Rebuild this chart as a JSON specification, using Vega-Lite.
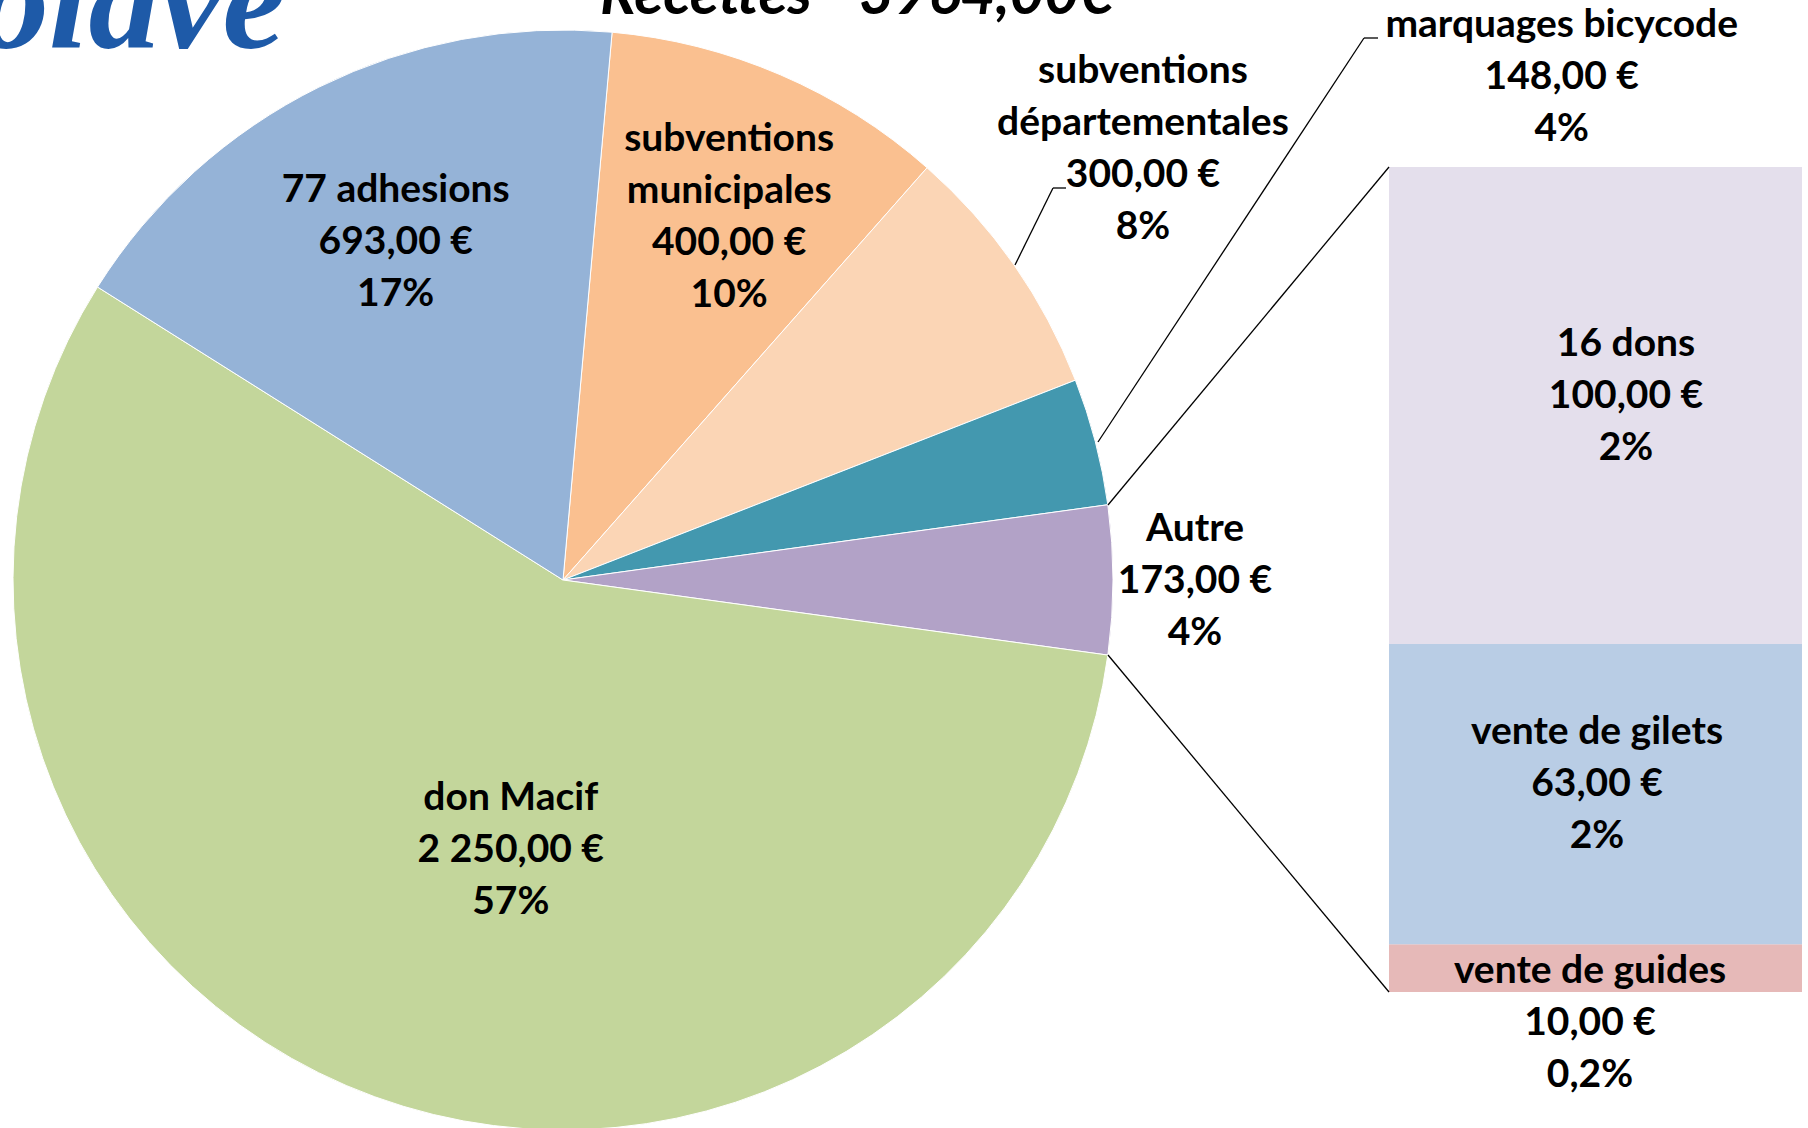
{
  "$schema": "https://vega.github.io/schema/vega-lite/v6.json",
  "width": 1808,
  "height": 1128,
  "padding": 0,
  "autosize": {"type": "none"},
  "background": "white",
  "config": {"view": {"stroke": null}},
  "datasets": {
    "pie": [
      {"cat": "subventions municipales", "value": 400, "ord": 1, "label": "subventions\nmunicipales\n400,00 €\n10%"},
      {"cat": "subventions départementales", "value": 300, "ord": 2, "label": "subventions\ndépartementales\n300,00 €\n8%"},
      {"cat": "marquages bicycode", "value": 148, "ord": 3, "label": "marquages bicycode\n148,00 €\n4%"},
      {"cat": "Autre", "value": 173, "ord": 4, "label": "Autre\n173,00 €\n4%"},
      {"cat": "don Macif", "value": 2250, "ord": 5, "label": "don Macif\n2 250,00 €\n57%"},
      {"cat": "77 adhesions", "value": 693, "ord": 6, "label": "77 adhesions\n693,00 €\n17%"}
    ],
    "bar": [
      {"cat": "vente de guides", "value": 10, "ord": 1, "label": "vente de guides\n10,00 €\n0,2%"},
      {"cat": "vente de gilets", "value": 63, "ord": 2, "label": "vente de gilets\n63,00 €\n2%"},
      {"cat": "16 dons", "value": 100, "ord": 3, "label": "16 dons\n100,00 €\n2%"}
    ],
    "deco": [{"id": 1}]
  },
  "layer": [
    {
      "data": {"name": "deco"},
      "mark": {"type": "text", "x": -22, "y": 48, "text": "olave", "font": "Liberation Serif", "fontSize": 142, "fontStyle": "italic", "fontWeight": "bold", "color": "#1E5AA8", "align": "left", "baseline": "alphabetic"}
    },
    {
      "data": {"name": "deco"},
      "mark": {"type": "text", "x": 857, "y": 14, "text": "Recettes - 3964,00€", "font": "Lato", "fontSize": 60, "fontStyle": "italic", "fontWeight": "bold", "color": "black", "align": "center", "baseline": "alphabetic"}
    },
    {
      "data": {"name": "pie"},
      "encoding": {
        "theta": {"field": "value", "type": "quantitative", "stack": true, "scale": {"range": [0.0894, 6.3726]}},
        "order": {"field": "ord", "type": "quantitative"}
      },
      "layer": [
        {
          "mark": {"type": "arc", "x": 563, "y": 580, "outerRadius": 550, "stroke": "white", "strokeWidth": 1},
          "encoding": {
            "color": {"field": "cat", "type": "nominal", "legend": null,
              "scale": {
                "domain": ["subventions municipales", "subventions départementales", "marquages bicycode", "Autre", "don Macif", "77 adhesions", "vente de guides", "vente de gilets", "16 dons"],
                "range": ["#FAC090", "#FBD5B5", "#4398AF", "#B2A2C7", "#C3D69B", "#95B3D7", "#E6B9B8", "#B9CDE5", "#E4DFEC"]
              }}
          }
        },
        {
          "mark": {"type": "text", "x": 563, "y": 580, "radius": 377, "dy": -52, "font": "Lato", "fontSize": 39, "fontWeight": "bold", "lineHeight": 52, "lineBreak": "\n", "align": "center", "baseline": "middle", "color": "black"},
          "encoding": {"text": {"condition": {"test": "datum.cat === '77 adhesions'", "field": "label", "type": "nominal"}, "value": ""}}
        },
        {
          "mark": {"type": "text", "x": 563, "y": 580, "radius": 395, "dx": 10, "dy": -78, "font": "Lato", "fontSize": 39, "fontWeight": "bold", "lineHeight": 52, "lineBreak": "\n", "align": "center", "baseline": "middle", "color": "black"},
          "encoding": {"text": {"condition": {"test": "datum.cat === 'subventions municipales'", "field": "label", "type": "nominal"}, "value": ""}}
        },
        {
          "mark": {"type": "text", "x": 563, "y": 580, "radius": 722, "dx": -12, "dy": -96, "font": "Lato", "fontSize": 39, "fontWeight": "bold", "lineHeight": 52, "lineBreak": "\n", "align": "center", "baseline": "middle", "color": "black"},
          "encoding": {"text": {"condition": {"test": "datum.cat === 'subventions départementales'", "field": "label", "type": "nominal"}, "value": ""}}
        },
        {
          "mark": {"type": "text", "x": 563, "y": 580, "radius": 1032, "dy": -295, "font": "Lato", "fontSize": 39, "fontWeight": "bold", "lineHeight": 52, "lineBreak": "\n", "align": "center", "baseline": "middle", "color": "black"},
          "encoding": {"text": {"condition": {"test": "datum.cat === 'marquages bicycode'", "field": "label", "type": "nominal"}, "value": ""}}
        },
        {
          "mark": {"type": "text", "x": 563, "y": 580, "radius": 632, "dy": -51, "font": "Lato", "fontSize": 39, "fontWeight": "bold", "lineHeight": 52, "lineBreak": "\n", "align": "center", "baseline": "middle", "color": "black"},
          "encoding": {"text": {"condition": {"test": "datum.cat === 'Autre'", "field": "label", "type": "nominal"}, "value": ""}}
        },
        {
          "mark": {"type": "text", "x": 563, "y": 580, "radius": 287, "dx": 46, "dy": -52, "font": "Lato", "fontSize": 39, "fontWeight": "bold", "lineHeight": 52, "lineBreak": "\n", "align": "center", "baseline": "middle", "color": "black"},
          "encoding": {"text": {"condition": {"test": "datum.cat === 'don Macif'", "field": "label", "type": "nominal"}, "value": ""}}
        }
      ]
    },
    {
      "data": {"name": "bar"},
      "encoding": {
        "y": {"field": "value", "type": "quantitative", "stack": "zero", "scale": {"domain": [0, 173], "range": [992, 167]}, "axis": null},
        "order": {"field": "ord", "type": "quantitative"}
      },
      "layer": [
        {
          "mark": {"type": "bar", "orient": "vertical"},
          "encoding": {
            "x": {"value": 1389},
            "x2": {"value": 1802},
            "color": {"field": "cat", "type": "nominal", "legend": null,
              "scale": {
                "domain": ["subventions municipales", "subventions départementales", "marquages bicycode", "Autre", "don Macif", "77 adhesions", "vente de guides", "vente de gilets", "16 dons"],
                "range": ["#FAC090", "#FBD5B5", "#4398AF", "#B2A2C7", "#C3D69B", "#95B3D7", "#E6B9B8", "#B9CDE5", "#E4DFEC"]
              }}
          }
        },
        {
          "mark": {"type": "text", "x": 1626, "dy": -61, "font": "Lato", "fontSize": 39, "fontWeight": "bold", "lineHeight": 52, "lineBreak": "\n", "align": "center", "baseline": "middle", "color": "black"},
          "encoding": {
            "y": {"field": "value", "type": "quantitative", "stack": "zero", "bandPosition": 0.5, "scale": {"domain": [0, 173], "range": [992, 167]}, "axis": null},
            "text": {"condition": {"test": "datum.cat === '16 dons'", "field": "label", "type": "nominal"}, "value": ""}
          }
        },
        {
          "mark": {"type": "text", "x": 1597, "dy": -62, "font": "Lato", "fontSize": 39, "fontWeight": "bold", "lineHeight": 52, "lineBreak": "\n", "align": "center", "baseline": "middle", "color": "black"},
          "encoding": {
            "y": {"field": "value", "type": "quantitative", "stack": "zero", "bandPosition": 0.5, "scale": {"domain": [0, 173], "range": [992, 167]}, "axis": null},
            "text": {"condition": {"test": "datum.cat === 'vente de gilets'", "field": "label", "type": "nominal"}, "value": ""}
          }
        },
        {
          "mark": {"type": "text", "x": 1590, "dy": 3, "font": "Lato", "fontSize": 39, "fontWeight": "bold", "lineHeight": 52, "lineBreak": "\n", "align": "center", "baseline": "middle", "color": "black"},
          "encoding": {
            "y": {"field": "value", "type": "quantitative", "stack": "zero", "bandPosition": 0.5, "scale": {"domain": [0, 173], "range": [992, 167]}, "axis": null},
            "text": {"condition": {"test": "datum.cat === 'vente de guides'", "field": "label", "type": "nominal"}, "value": ""}
          }
        }
      ]
    },
    {
      "data": {"name": "deco"},
      "mark": {"type": "rule", "color": "black", "strokeWidth": 1.3},
      "encoding": {"x": {"value": 1015}, "y": {"value": 265}, "x2": {"value": 1053}, "y2": {"value": 188}}
    },
    {
      "data": {"name": "deco"},
      "mark": {"type": "rule", "color": "black", "strokeWidth": 1.3},
      "encoding": {"x": {"value": 1053}, "y": {"value": 188}, "x2": {"value": 1066}, "y2": {"value": 188}}
    },
    {
      "data": {"name": "deco"},
      "mark": {"type": "rule", "color": "black", "strokeWidth": 1.3},
      "encoding": {"x": {"value": 1098}, "y": {"value": 442}, "x2": {"value": 1364}, "y2": {"value": 38}}
    },
    {
      "data": {"name": "deco"},
      "mark": {"type": "rule", "color": "black", "strokeWidth": 1.3},
      "encoding": {"x": {"value": 1364}, "y": {"value": 38}, "x2": {"value": 1378}, "y2": {"value": 38}}
    },
    {
      "data": {"name": "deco"},
      "mark": {"type": "rule", "color": "black", "strokeWidth": 1.3},
      "encoding": {"x": {"value": 1108}, "y": {"value": 505}, "x2": {"value": 1389}, "y2": {"value": 167}}
    },
    {
      "data": {"name": "deco"},
      "mark": {"type": "rule", "color": "black", "strokeWidth": 1.3},
      "encoding": {"x": {"value": 1108}, "y": {"value": 655}, "x2": {"value": 1389}, "y2": {"value": 992}}
    }
  ]
}
